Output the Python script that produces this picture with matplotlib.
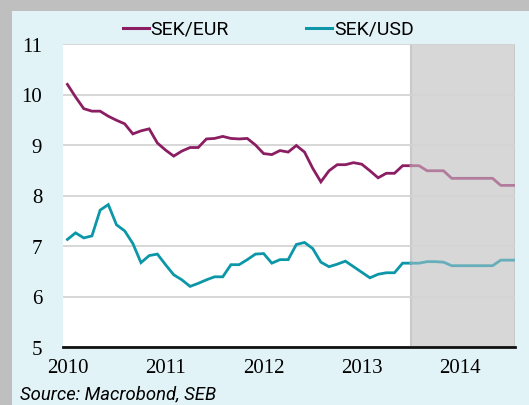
import matplotlib
matplotlib.use("Agg")
import matplotlib.pyplot as plt
from matplotlib.patches import Rectangle
from matplotlib import font_manager
import numpy as np

# Monthly observations from Jan 2010 (month index 0) to Jul 2013 (index 42)
sek_eur_hist = [10.20, 9.95, 9.72, 9.67, 9.67, 9.57, 9.49, 9.42, 9.22, 9.28, 9.32, 9.04,
                8.90, 8.78, 8.88, 8.95, 8.95, 9.12, 9.13, 9.17, 9.13, 9.12, 9.13, 9.00,
                8.83, 8.81, 8.89, 8.86, 8.99, 8.86, 8.54, 8.27, 8.49, 8.61, 8.61, 8.65,
                8.62, 8.49, 8.35, 8.44, 8.44, 8.59, 8.59]
sek_usd_hist = [7.13, 7.26, 7.16, 7.20, 7.71, 7.82, 7.42, 7.30, 7.05, 6.67, 6.81, 6.84,
                6.63, 6.43, 6.33, 6.20, 6.26, 6.33, 6.39, 6.39, 6.63, 6.63, 6.73, 6.84,
                6.85, 6.66, 6.73, 6.73, 7.03, 7.07, 6.95, 6.68, 6.59, 6.64, 6.70, 6.59,
                6.48, 6.37, 6.44, 6.47, 6.47, 6.66, 6.66]
# Forecast, months 42..55
sek_eur_fc = [8.59, 8.59, 8.49, 8.49, 8.49, 8.34, 8.34, 8.34, 8.34, 8.34, 8.34, 8.20, 8.20, 8.20]
sek_usd_fc = [6.66, 6.66, 6.69, 6.69, 6.68, 6.61, 6.61, 6.61, 6.61, 6.61, 6.61, 6.72, 6.72, 6.72]

start_year = 2010
forecast_start = 2013.5
x_ticks = [2010, 2011, 2012, 2013, 2014]
y_ticks = [5, 6, 7, 8, 9, 10, 11]
series_names = ["SEK/EUR", "SEK/USD"]
source = "Source: Macrobond, SEB"

eur_c, usd_c = "#8b1e62", "#0b97a7"
eur_fc_c, usd_fc_c = "#b27c9d", "#66afba"


def have(name):
    try:
        font_manager.findfont(font_manager.FontProperties(family=name), fallback_to_default=False)
        return True
    except Exception:
        return False


if have("Liberation Sans Narrow"):
    narrow, lsize, ssize = ["Liberation Sans Narrow", "DejaVu Sans"], 15, 15
else:
    narrow, lsize, ssize = ["Roboto", "DejaVu Sans"], 14, 13.3

x_hist = start_year + np.arange(len(sek_eur_hist)) / 12
x_fc = start_year + (len(sek_eur_hist) - 1 + np.arange(len(sek_eur_fc))) / 12

W, H = 529, 406
fig = plt.figure(figsize=(W / 100, H / 100), dpi=100)
fig.patch.set_facecolor("#e2f3f8")
fig.add_artist(Rectangle((0, 1 - 12 / H), 1, 12 / H, transform=fig.transFigure,
                         facecolor="#bfbfbf", edgecolor="none"))
fig.add_artist(Rectangle((0, 0), 12 / W, 1, transform=fig.transFigure,
                         facecolor="#bfbfbf", edgecolor="none"))

ax = fig.add_axes([63 / W, 1 - 348 / H, (515 - 63) / W, (348 - 45) / H])
ax.set_facecolor("white")
ax.set_xlim(2009.955, 2014.562)
ax.set_ylim(5, 11)
ax.axvspan(forecast_start, 2014.562, facecolor="#d7d7d7", edgecolor="#c9c9c9",
           linewidth=1.5, zorder=0)
ax.set_axisbelow(True)
ax.yaxis.grid(True, color="#d4d4d4", linewidth=1.3)

ax.plot(x_hist, sek_eur_hist, color=eur_c, lw=2.0, zorder=3, solid_joinstyle="miter")
ax.plot(x_hist, sek_usd_hist, color=usd_c, lw=2.0, zorder=3, solid_joinstyle="miter")
ax.plot(x_fc, sek_eur_fc, color=eur_fc_c, lw=2.0, zorder=3)
ax.plot(x_fc, sek_usd_fc, color=usd_fc_c, lw=2.0, zorder=3)

for s in ["top", "right", "left"]:
    ax.spines[s].set_visible(False)
ax.spines["bottom"].set_linewidth(2.0)
ax.spines["bottom"].set_color("#111111")

serif = ["Liberation Serif", "DejaVu Serif"]
ax.set_xticks(x_ticks)
ax.set_xticklabels([str(t) for t in x_ticks], family=serif, fontsize=15)
ax.set_yticks(y_ticks)
ax.set_yticklabels([str(t) for t in y_ticks], family=serif, fontsize=15)
ax.tick_params(axis="both", length=0)
ax.tick_params(axis="y", pad=15)
ax.tick_params(axis="x", pad=8)

# legend
for (x0, x1, tx), name, c in zip([(123, 149, 150), (306, 332, 334)], series_names, [eur_c, usd_c]):
    fig.add_artist(plt.Line2D([x0 / W, x1 / W], [1 - 29 / H] * 2, transform=fig.transFigure,
                              color=c, lw=2.2))
    fig.text(tx / W, 1 - 29 / H, name, family=narrow, fontsize=lsize, va="center", ha="left")

fig.text(20 / W, 1 - 394 / H, source, family=narrow, style="italic", fontsize=ssize,
         va="center", ha="left")

fig.savefig("out.png", dpi=100, facecolor=fig.get_facecolor())
